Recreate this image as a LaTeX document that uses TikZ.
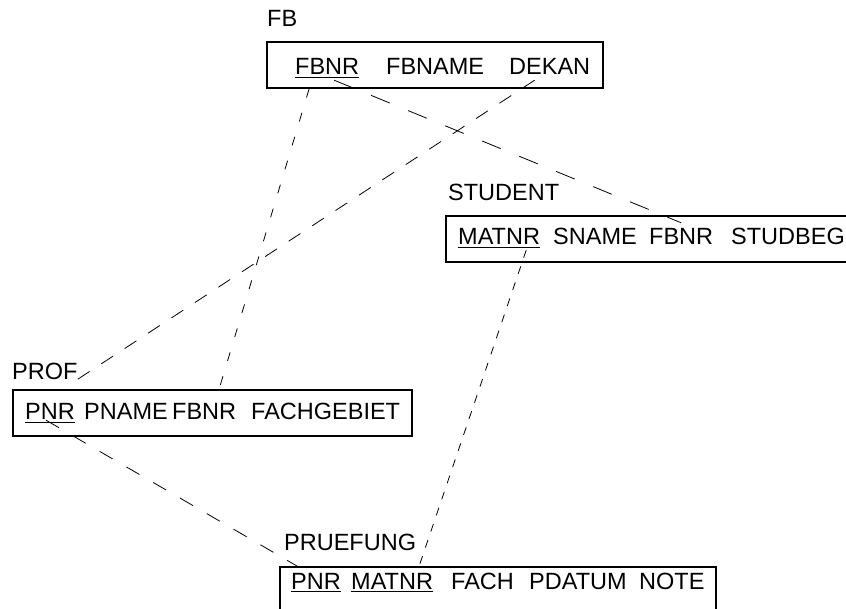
\documentclass[tikz,border=0pt]{standalone}
\usepackage{fontspec}
\setmainfont{Liberation Sans}
\usetikzlibrary{calc}
\begin{document}
\begin{tikzpicture}[x=1pt,y=-1pt,
  attr/.style={anchor=base west, inner sep=0pt, text height=17pt, text depth=5pt, font=\fontsize{23.5}{28}\selectfont},
  lbl/.style={attr},
  relbox/.style={draw, line width=1.8pt, minimum height=46pt, inner sep=0pt},
  link/.style={line width=0.8pt},
  keyline/.style={line width=1.6pt}
]
\clip (0,0) rectangle (846,609);
% relation boxes
\node[relbox, minimum width=336pt] (fbbox) at (435,65) {};
\node[relbox, minimum width=430pt] (sbox) at (661,239) {};
\node[relbox, minimum width=399pt] (profbox) at (212.5,413) {};
\node[relbox, minimum width=436pt] (qbox) at (498,590) {};
% FB
\node[lbl] (fblbl) at (267,27) {FB};
\node[attr] (fbnr) at (295,75) {FBNR};
\node[attr] (fbname) at (386,75) {FBNAME};
\node[attr] (dekan) at (509,75) {DEKAN};
% STUDENT
\node[lbl] (slbl) at (448,201) {STUDENT};
\node[attr] (matnr) at (458,245) {MATNR};
\node[attr] (sname) at (553,245) {SNAME};
\node[attr] (sfbnr) at (649,245) {FBNR};
\node[attr] (studbeg) at (731,245) {STUDBEG};
% PROF
\node[lbl] (plbl) at (12,380) {PROF};
\node[attr] (pnr) at (25,420) {PNR};
\node[attr] (pname) at (84,420) {PNAME};
\node[attr] (pfbnr) at (172,420) {FBNR};
\node[attr] (fachgeb) at (251,420) {FACHGEBIET};
% PRUEFUNG
\node[lbl] (qlbl) at (284,550) {PRUEFUNG};
\node[attr] (qpnr) at (291,589) {PNR};
\node[attr] (qmatnr) at (351,589) {MATNR};
\node[attr] (fach) at (451,589) {FACH};
\node[attr] (pdatum) at (529,589) {PDATUM};
\node[attr] (note) at (639,589) {NOTE};
% key underlines
\foreach \n in {fbnr,matnr,pnr,qpnr,qmatnr}
  \draw[keyline] ([yshift=-2.5pt]\n.base west) -- ([yshift=-2.5pt]\n.base east);
% foreign key links
\draw[link, dash pattern=on 20pt off 20pt] ([xshift=7pt]fbnr.south) -- ([yshift=5pt]sfbnr.north);
\draw[link, dash pattern=on 14pt off 14pt] ([xshift=-15pt]dekan.south) -- ([xshift=-6pt,yshift=2pt]plbl.south east);
\draw[link, dash pattern=on 9pt off 16pt] ([xshift=43pt]fbbox.south west) -- ([xshift=207pt]profbox.north west);
\draw[link, dash pattern=on 15pt off 16pt] ([xshift=-4pt,yshift=5pt]pnr.south) -- ([xshift=18pt]qbox.north west);
\draw[link, dash pattern=on 8pt off 9pt] ([xshift=-14pt]matnr.south east) -- ([xshift=140pt]qbox.north west);
\end{tikzpicture}
\end{document}
